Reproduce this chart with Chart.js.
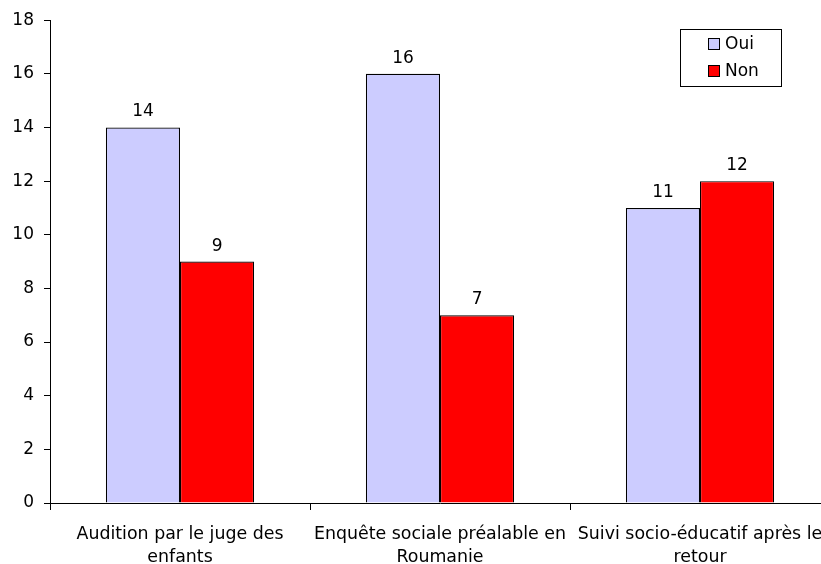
<!DOCTYPE html>
<html>
<head>
<meta charset="utf-8">
<script src="https://cdn.jsdelivr.net/npm/chart.js@4/dist/chart.umd.min.js"></script>
<style>
    html, body { margin: 0; padding: 0; background: #fff; overflow: hidden; }
    #wrap { width: 860px; height: 564px; }
</style>
</head>
<body>
<div id="wrap"><canvas id="chart"></canvas></div>
<script>
// données
const categories = [
    ['Audition par le juge des', 'enfants'],
    ['Enquête sociale préalable en', 'Roumanie'],
    ['Suivi socio-éducatif après le', 'retour']
];
const seriesNames = ['Oui', 'Non'];
const ouiValues = [14, 16, 11];
const nonValues = [9, 7, 12];
const yTicks = [0, 2, 4, 6, 8, 10, 12, 14, 16, 18];

const FONT = '"DejaVu Sans", Verdana, sans-serif';

// étiquettes de valeur au-dessus des barres
const valueLabels = {
    id: 'valueLabels',
    afterDatasetsDraw(chart) {
        const ctx = chart.ctx;
        ctx.save();
        ctx.fillStyle = '#000';
        ctx.font = '17px ' + FONT;
        ctx.textAlign = 'center';
        ctx.textBaseline = 'alphabetic';
        chart.data.datasets.forEach((ds, i) => {
            chart.getDatasetMeta(i).data.forEach((bar, j) => {
                ctx.fillText(ds.data[j], bar.x, bar.y - 11);
            });
        });
        ctx.restore();
    }
};

// légende encadrée en haut à droite
const boxLegend = {
    id: 'boxLegend',
    afterDraw(chart) {
        const ctx = chart.ctx;
        const x = 680, y = 29, w = 101, h = 57;
        ctx.save();
        ctx.fillStyle = '#fff';
        ctx.fillRect(x, y, w, h);
        ctx.strokeStyle = '#000';
        ctx.lineWidth = 1;
        ctx.strokeRect(x + 0.5, y + 0.5, w, h);
        ctx.font = '17px ' + FONT;
        ctx.textBaseline = 'middle';
        chart.data.datasets.forEach((ds, i) => {
            const cy = y + 15 + i * 27;
            ctx.fillStyle = ds.backgroundColor;
            ctx.fillRect(x + 28, cy - 6, 12, 12);
            ctx.strokeRect(x + 28.5, cy - 5.5, 11, 11);
            ctx.fillStyle = '#000';
            ctx.fillText(ds.label, x + 45, cy + 1);
        });
        ctx.restore();
    }
};

new Chart(document.getElementById('chart'), {
    type: 'bar',
    data: {
        labels: categories,
        datasets: [
            {
                label: seriesNames[0],
                data: ouiValues,
                backgroundColor: '#ccccff',
                borderColor: '#000',
                borderWidth: 1.2
            },
            {
                label: seriesNames[1],
                data: nonValues,
                backgroundColor: '#ff0000',
                borderColor: '#000',
                borderWidth: 1.2
            }
        ]
    },
    options: {
        responsive: true,
        maintainAspectRatio: false,
        animation: false,
        layout: { padding: { top: 18, right: 30, left: 0, bottom: 0 } },
        datasets: { bar: { barPercentage: 1, categoryPercentage: 0.57 } },
        plugins: {
            legend: { display: false },
            tooltip: { enabled: false }
        },
        scales: {
            x: {
                grid: { offset: true, drawOnChartArea: false, color: '#000', tickLength: 7 },
                border: { color: '#000', width: 1 },
                ticks: {
                    color: '#000',
                    font: { family: FONT, size: 17.4, lineHeight: 1.32 },
                    maxRotation: 0,
                    autoSkip: false,
                    padding: 13
                },
                afterFit(scale) { scale.height = 61; }
            },
            y: {
                min: 0,
                max: 18,
                afterBuildTicks(scale) { scale.ticks = yTicks.map(v => ({ value: v })); },
                grid: { drawOnChartArea: false, color: '#000', tickLength: 6 },
                border: { color: '#000', width: 1 },
                ticks: {
                    color: '#000',
                    font: { family: FONT, size: 17 },
                    padding: 10
                },
                afterFit(scale) { scale.width = 50; }
            }
        }
    },
    plugins: [valueLabels, boxLegend]
});
</script>
</body>
</html>
